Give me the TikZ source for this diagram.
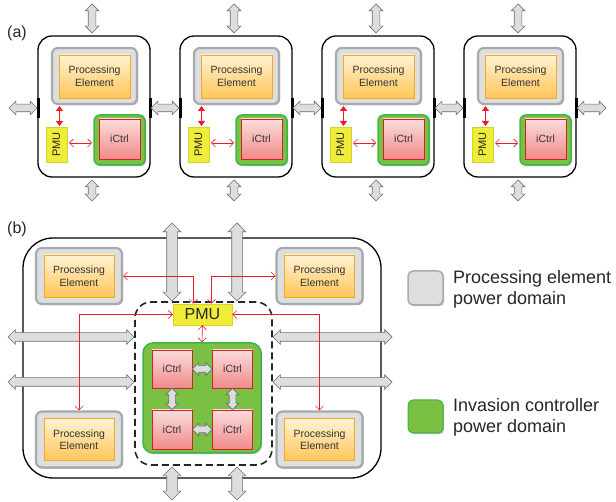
\documentclass[tikz,border=0pt]{standalone}
\usepackage{fontspec}
\setmainfont{Liberation Sans}
\usetikzlibrary{shapes.arrows,arrows.meta,calc,shadows}
\definecolor{peor}{HTML}{F7A823}
\definecolor{petop}{HTML}{FFF2D2}
\definecolor{pebot}{HTML}{FFC65A}
\definecolor{domfill}{HTML}{DDDEE0}
\definecolor{domline}{HTML}{A7A9AC}
\definecolor{gfill}{HTML}{7AC143}
\definecolor{gline}{HTML}{3DB54A}
\definecolor{rline}{HTML}{D2232A}
\definecolor{rtop}{HTML}{FCDCDC}
\definecolor{rbot}{HTML}{F08A8A}
\definecolor{ared}{HTML}{ED1C24}
\definecolor{pmuy}{HTML}{F0EC3A}
\definecolor{pmul}{HTML}{D6D22A}
\definecolor{arrfill}{HTML}{DCDDDF}
\definecolor{arrline}{HTML}{6D6E70}
\tikzset{
  shd/.style={drop shadow={shadow xshift=1.2pt,shadow yshift=-1.2pt,opacity=0.3,fill=black}},
  tile/.style={draw=black,line width=1.3pt,rounded corners=14pt,inner sep=0pt},
  pedom/.style={draw=domline,fill=domfill,line width=2.2pt,rounded corners=6pt,inner sep=0pt,shd},
  pebox/.style={draw=peor,line width=0.8pt,top color=petop,bottom color=pebot,align=center,
    font=\fontsize{10.5}{12.5}\selectfont,text=black!80,inner sep=0pt},
  gdom/.style={draw=gline,fill=gfill,line width=1.5pt,rounded corners=6pt,inner sep=0pt,shd},
  ictrl/.style={draw=rline,line width=0.8pt,top color=rtop,bottom color=rbot,
    font=\fontsize{10.5}{12.5}\selectfont,text=black!80,inner sep=0pt},
  pmubox/.style={draw=pmul,fill=pmuy,line width=0.5pt,inner sep=0pt,text=black!85,shd},
  garr/.style={shape=double arrow,draw=arrline,fill=arrfill,line width=0.7pt,inner sep=0pt,
    inner ysep=3.5pt,double arrow head extend=3pt,double arrow head indent=0pt,minimum width=0pt},
  garrbig/.style={inner ysep=5pt,double arrow head extend=3.5pt},
  garrmid/.style={inner ysep=4pt,double arrow head extend=3pt},
  garrsmall/.style={inner ysep=3pt,double arrow head extend=3pt},
  redthick/.style={draw=ared,line width=1.2pt,{Triangle[length=5pt,width=7pt]}-{Triangle[length=5pt,width=7pt]}},
  redthin/.style={draw=ared,line width=0.6pt,{Straight Barb[length=4pt,width=8pt]}-{Straight Barb[length=4pt,width=8pt]}},
  legtext/.style={anchor=west,align=left,font=\fontsize{18}{21}\selectfont,text=black!85,inner sep=0pt},
  lab/.style={font=\fontsize{16}{18}\selectfont,text=black!85,inner sep=0pt},
}
\newcommand\garrow[3][]{\path let \p1=($(#3)-(#2)$), \n1={veclen(\x1,\y1)}, \n2={atan2(\y1,\x1)} in
  node[garr,#1,minimum height=\n1,rotate=\n2] at ($(#2)!0.5!(#3)$) {};}
\begin{document}
\begin{tikzpicture}[x=1pt,y=-1pt]
\useasboundingbox (0,0) rectangle (616,502);
% ---------------- (a) ----------------
\node[lab] (la) at (17,33) {(a)};
\foreach \k [evaluate=\k as \dx using 142*\k] in {0,1,2,3}{
  \node[tile,minimum width=112,minimum height=141] (t\k) at (94+\dx,106.5) {};
  \draw[line width=3pt] (38+\dx,98) -- (38+\dx,118);
  \draw[line width=3pt] (150+\dx,98) -- (150+\dx,118);
  \node[pedom,minimum width=85,minimum height=56] (d\k) at (94.5+\dx,76) {};
  \node[pebox,minimum width=71,minimum height=43] (p\k) at (94.5+\dx,76.5) {Processing\\Element};
  \node[gdom,minimum width=51,minimum height=50] (g\k) at (119.5+\dx,140) {};
  \node[ictrl,minimum width=41,minimum height=40] (i\k) at (119.5+\dx,139) {iCtrl};
  \node[pmubox,rotate=90,minimum width=35,minimum height=21,font=\fontsize{11}{12}\selectfont] (m\k) at (56.5+\dx,144.5) {PMU};
  \coordinate (va\k) at (59.5+\dx,106);
  \coordinate (vb\k) at (59.5+\dx,126);
  \draw[redthick] (va\k) -- (vb\k);
  \coordinate (ha\k) at (69+\dx,143);
  \coordinate (hb\k) at (92+\dx,143);
  \draw[redthin] (ha\k) -- (hb\k);
  \coordinate (ua\k) at (92+\dx,4);
  \coordinate (ub\k) at (92+\dx,33);
  \garrow{ua\k}{ub\k}
  \coordinate (wa\k) at (92+\dx,180);
  \coordinate (wb\k) at (92+\dx,201);
  \garrow{wa\k}{wb\k}
  \coordinate (xa\k) at (9+\dx,108);
  \coordinate (xb\k) at (37+\dx,108);
  \garrow{xa\k}{xb\k}
}
\coordinate (xa4) at (577,108);
\coordinate (xb4) at (606,108);
\garrow{xa4}{xb4}
% ---------------- (b) ----------------
\node[lab] (lb) at (17,229) {(b)};
\node[tile,rounded corners=30pt,minimum width=358,minimum height=240] (ob) at (202,358) {};
\node[draw=black!85,line width=1.6pt,dash pattern=on 7pt off 4pt,rounded corners=16pt,inner sep=0pt,
  minimum width=137,minimum height=163] (dash) at (203.5,383.5) {};
\foreach \n/\cx/\cy in {TL/79/276,TR/319.5/276,BL/79/439.5,BR/319.5/439.5}{
  \node[pedom,minimum width=86,minimum height=56] (d\n) at (\cx,\cy) {};
  \node[pebox,minimum width=70,minimum height=42] (p\n) at (\cx,\cy) {Processing\\Element};
}
\node[gdom,rounded corners=10pt,minimum width=118,minimum height=110] (gr) at (202,398) {};
\node[ictrl,minimum width=40,minimum height=38] (cTL) at (172,369) {iCtrl};
\node[ictrl,minimum width=40,minimum height=38] (cTR) at (232.5,369) {iCtrl};
\node[ictrl,minimum width=40,minimum height=39] (cBL) at (172,429.5) {iCtrl};
\node[ictrl,minimum width=40,minimum height=39] (cBR) at (232.5,429.5) {iCtrl};
\node[pmubox,minimum width=59,minimum height=21,font=\fontsize{16}{17}\selectfont] (pmu) at (202.5,314.5) {PMU};
% gray arrows (b)
\garrow[garrsmall]{cTL.east}{cTR.west}
\garrow[garrsmall]{cBL.east}{cBR.west}
\garrow[garrsmall]{cTL.south}{cBL.north}
\garrow[garrsmall]{cTR.south}{cBR.north}
\coordinate (v1a) at (172,223); \coordinate (v1b) at (172,301);
\coordinate (v2a) at (237,223); \coordinate (v2b) at (237,301);
\coordinate (v3a) at (172,467); \coordinate (v3b) at (172,500);
\coordinate (v4a) at (237,467); \coordinate (v4b) at (237,500);
\garrow[garrbig]{v1a}{v1b}
\garrow[garrbig]{v2a}{v2b}
\garrow[garrbig]{v3a}{v3b}
\garrow[garrbig]{v4a}{v4b}
\coordinate (h1a) at (8,337); \coordinate (h1b) at (134,337);
\coordinate (h2a) at (8,382); \coordinate (h2b) at (134,382);
\coordinate (h3a) at (273,337); \coordinate (h3b) at (392,337);
\coordinate (h4a) at (273,382); \coordinate (h4b) at (392,382);
\garrow[garrmid]{h1a}{h1b}
\garrow[garrmid]{h2a}{h2b}
\garrow[garrmid]{h3a}{h3b}
\garrow[garrmid]{h4a}{h4b}
% red links (b)
\draw[redthin] (dTL.east) -| ([xshift=-9pt]pmu.north);
\draw[redthin] (dTR.west) -| ([xshift=9pt]pmu.north);
\draw[redthin] (pmu.west) -| (dBL.north);
\draw[redthin] (pmu.east) -| (dBR.north);
\draw[redthin] (pmu.south) -- (gr.north);
% legend
\node[draw=domline,fill=domfill,line width=1.5pt,rounded corners=5pt,minimum width=35,minimum height=34,inner sep=0pt,shd] (lg1) at (425.5,288) {};
\node[legtext] (lt1) at (453,289) {Processing element\\power domain};
\node[draw=gline,fill=gfill,line width=1pt,rounded corners=5pt,minimum width=35,minimum height=33,inner sep=0pt,shd] (lg2) at (425.5,416.5) {};
\node[legtext] (lt2) at (453,417) {Invasion controller\\power domain};
\end{tikzpicture}
\end{document}
